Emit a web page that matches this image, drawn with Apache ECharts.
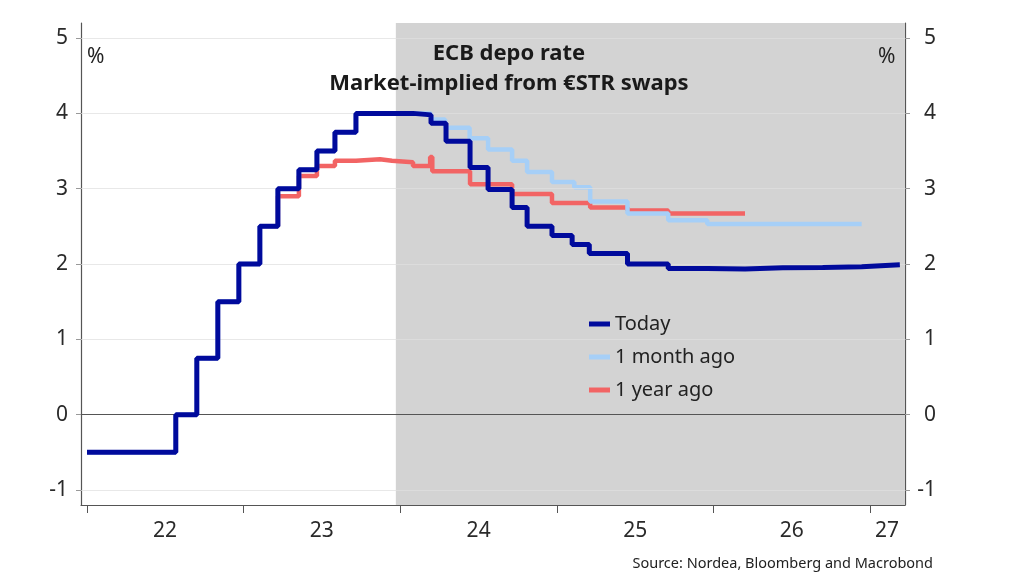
<!DOCTYPE html>
<html><head><meta charset="utf-8">
<script src="https://cdn.jsdelivr.net/npm/echarts@6/dist/echarts.min.js"></script>
<style>html,body{margin:0;padding:0;background:#fff}#c{width:1027px;height:585px}</style>
</head><body><div id="c"></div>
<script>
// ---- data ----
const todayDates = ['2022-01-01','2022-07-27','2022-09-14','2022-11-02','2022-12-21','2023-02-08','2023-03-22','2023-05-10','2023-06-21','2023-08-02','2023-09-20',
  '2024-01-31','2024-03-13','2024-04-17','2024-06-12','2024-07-24','2024-09-18','2024-10-23','2024-12-20','2025-02-05','2025-03-17','2025-06-14','2025-09-17','2025-12-17','2026-03-15','2026-06-11','2026-09-12','2026-12-12','2027-03-11'];
const todayValues = [-0.5,0,0.75,1.5,2.0,2.5,3.0,3.25,3.5,3.75,4.0,
  3.98,3.87,3.63,3.28,2.99,2.75,2.50,2.38,2.26,2.14,2.00,1.94,1.935,1.95,1.955,1.965,1.99,1.99];

const monthDates = ['2022-01-01','2022-07-27','2022-09-14','2022-11-02','2022-12-21','2023-02-08','2023-03-22','2023-05-10','2023-06-21','2023-08-02','2023-09-20',
  '2024-03-13','2024-04-15','2024-06-11','2024-07-24','2024-09-18','2024-10-23','2024-12-20','2025-02-10','2025-03-19','2025-06-14','2025-09-17','2025-12-17','2026-12-12'];
const monthValues = [-0.5,0,0.75,1.5,2.0,2.5,3.0,3.25,3.5,3.75,4.0,
  3.92,3.81,3.67,3.52,3.37,3.22,3.09,3.02,2.83,2.67,2.58,2.53,2.53];

const yearDates = ['2023-02-08','2023-03-22','2023-05-10','2023-06-21','2023-08-02','2023-09-20','2023-11-15','2023-12-13','2024-01-31','2024-03-11','2024-03-16',
  '2024-06-12','2024-09-18','2024-12-20','2025-03-19','2025-06-14','2025-09-17','2026-03-15'];
const yearValues = [2.5,2.9,3.17,3.3,3.37,3.39,3.37,3.35,3.30,3.42,3.23,
  3.06,2.93,2.81,2.75,2.71,2.67,2.67];

const seriesNames = ['Today','1 month ago','1 year ago'];
const yTickValues = [-1,0,1,2,3,4,5];
const yearTickDates = ['2022-01-01','2023-01-01','2024-01-01','2025-01-01','2026-01-01','2027-01-01'];
const yearLabelDates = ['2022-07-02','2023-07-02','2024-07-02','2025-07-02','2026-07-02','2027-02-09'];
const shadeStart = '2023-12-22';
const axisMin = '2021-12-18';
const axisMax = '2027-03-23';

// ---- helpers ----
const t = s => Date.UTC(+s.slice(0,4), +s.slice(5,7) - 1, +s.slice(8,10));
const zip = (d, v) => d.map((x, i) => [t(x), v[i]]);
const FONT = '"Noto Sans", "Open Sans", sans-serif';

const chart = echarts.init(document.getElementById('c'), null, {renderer: 'canvas'});

const yAxisBase = {
  type: 'value', min: -1.2, max: 5.2,
  axisLine: {show: true, onZero: false, lineStyle: {color: '#555', width: 1.2}},
  axisTick: {show: true, length: 5, lineStyle: {color: '#999'}, customValues: yTickValues},
  splitLine: {show: false},
  axisLabel: {customValues: yTickValues, fontSize: 21, color: '#2a2a2a', fontFamily: FONT}
};

chart.setOption({
  animation: false,
  backgroundColor: '#fff',
  title: {
    text: 'ECB depo rate\nMarket-implied from €STR swaps',
    left: 504, top: 34, textAlign: 'center',
    textStyle: {fontSize: 22, fontWeight: 'bold', color: '#1a1a1a', lineHeight: 30, fontFamily: FONT}
  },
  legend: {
    data: seriesNames, orient: 'vertical', left: 589, top: 313,
    icon: 'rect', itemWidth: 21, itemHeight: 5, itemGap: 11, padding: 0,
    textStyle: {fontSize: 20, color: '#222', fontFamily: FONT, lineHeight: 22}
  },
  graphic: [
    {type: 'text', z: 20, left: 87, top: 47, style: {text: '%', fontSize: 21, fill: '#222', fontFamily: FONT}},
    {type: 'text', z: 20, left: 878, top: 47, style: {text: '%', fontSize: 21, fill: '#222', fontFamily: FONT}},
    {type: 'text', z: 20, right: 94, top: 556, style: {text: 'Source: Nordea, Bloomberg and Macrobond', fontSize: 14.5, fill: '#222', fontFamily: FONT}}
  ],
  grid: {left: 81, right: 122, top: 23, bottom: 80, containLabel: false},
  xAxis: {
    type: 'value', min: t(axisMin), max: t(axisMax),
    axisLine: {show: true, onZero: false, lineStyle: {color: '#555', width: 1.2}},
    axisTick: {show: true, length: 8, lineStyle: {color: '#555'}, customValues: yearTickDates.map(t)},
    splitLine: {show: false},
    axisLabel: {
      customValues: yearLabelDates.map(t), margin: 16, fontSize: 21, color: '#2a2a2a', fontFamily: FONT,
      formatter: v => String(new Date(v).getUTCFullYear()).slice(2)
    }
  },
  yAxis: [
    Object.assign({}, yAxisBase, {position: 'left', axisLabel: Object.assign({}, yAxisBase.axisLabel, {margin: 13})}),
    Object.assign({}, yAxisBase, {position: 'right', axisLabel: Object.assign({}, yAxisBase.axisLabel, {margin: 31, align: 'right'})})
  ],
  series: [
    {
      name: 'shade', type: 'line', data: [], z: 0, silent: true,
      markArea: {silent: true, itemStyle: {color: '#d3d3d3'}, data: [[{xAxis: t(shadeStart)}, {xAxis: t(axisMax)}]]}
    },
    {
      name: 'grid', type: 'line', data: [], z: 1, silent: true,
      markLine: {
        silent: true, symbol: 'none', label: {show: false},
        data: yTickValues.map(v => ({yAxis: v, lineStyle: {color: v === 0 ? '#555' : 'rgba(224,224,224,0.73)', width: 1.2, type: 'solid'}}))
      }
    },
    {
      name: '1 year ago', type: 'line', step: 'end', z: 3, symbol: 'none', showSymbol: false,
      data: zip(yearDates, yearValues),
      lineStyle: {color: '#f26464', width: 4.5}, itemStyle: {color: '#f26464'}
    },
    {
      name: '1 month ago', type: 'line', step: 'end', z: 4, symbol: 'none', showSymbol: false,
      data: zip(monthDates, monthValues),
      lineStyle: {color: '#a6cff7', width: 4.5}, itemStyle: {color: '#a6cff7'}
    },
    {
      name: 'Today', type: 'line', step: 'end', z: 5, symbol: 'none', showSymbol: false,
      data: zip(todayDates, todayValues),
      lineStyle: {color: '#000a9c', width: 5}, itemStyle: {color: '#000a9c'}
    }
  ]
});
</script></body></html>
